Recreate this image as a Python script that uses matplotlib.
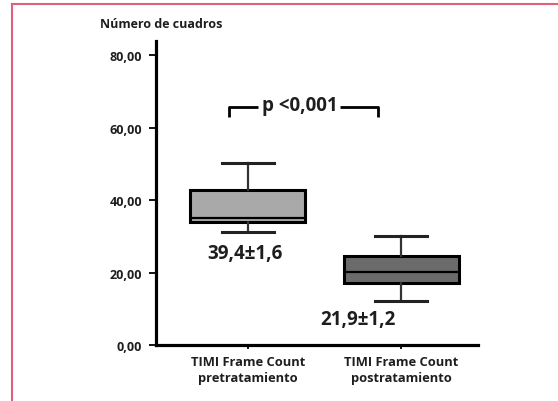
import matplotlib
matplotlib.use("Agg")
import matplotlib.pyplot as plt
from matplotlib.lines import Line2D

categories = ["TIMI Frame Count\npretratamiento", "TIMI Frame Count\npostratamiento"]
whislo = [31.3, 12.2]
q1 = [33.9, 17.0]
med = [35.2, 20.2]
q3 = [42.8, 24.6]
whishi = [50.4, 30.2]
mean_labels = ["39,4±1,6", "21,9±1,2"]
y_ticks = [0, 20, 40, 60, 80]
y_ticklabels = ["0,00", "20,00", "40,00", "60,00", "80,00"]
box_colors = ["#a9a9a9", "#6b6b6b"]
p_text = "p <0,001"
y_title = "Número de cuadros"

FONT = "Open Sans"
plt.rcParams['font.family'] = [FONT, 'DejaVu Sans']

fig = plt.figure(figsize=(5.58, 4.02), dpi=100)
ax = fig.add_axes([156/558, 1-346/402, (478-156)/558, (346-42)/402])

stats = []
for i in range(len(categories)):
    stats.append(dict(whislo=whislo[i], q1=q1[i], med=med[i], q3=q3[i], whishi=whishi[i], fliers=[]))

bp = ax.bxp(stats, positions=[1, 2], widths=0.75, patch_artist=True, showfliers=False,
            boxprops=dict(linewidth=2.2, edgecolor="black"),
            medianprops=dict(color="black", linewidth=1.6),
            whiskerprops=dict(color="#333333", linewidth=1.6),
            capprops=dict(color="#222222", linewidth=2.2),
            capwidths=0.34)
for patch, c in zip(bp["boxes"], box_colors):
    patch.set_facecolor(c)

ax.set_xlim(0.40, 2.50)
ax.set_ylim(0, 84)
ax.set_yticks(y_ticks)
ax.set_yticklabels(y_ticklabels, fontsize=9, fontweight="bold", color="#1e1e1e")
ax.set_xticks([1, 2])
ax.set_xticklabels(categories, fontsize=9.3, fontweight="bold", color="#1e1e1e", linespacing=1.35)
ax.tick_params(axis="y", direction="out", length=5, width=1.3, pad=5)
ax.tick_params(axis="x", direction="out", length=3, width=1.3, pad=4)
for s in ["top", "right"]:
    ax.spines[s].set_visible(False)
for s in ["left", "bottom"]:
    ax.spines[s].set_linewidth(2.3)
    ax.spines[s].set_color("black")

# mean labels
ax.text(0.98, 25.5, mean_labels[0], ha="center", va="center", fontsize=13.5, fontweight="bold", color="#1e1e1e")
ax.text(1.72, 7.1, mean_labels[1], ha="center", va="center", fontsize=13.5, fontweight="bold", color="#1e1e1e")

# significance bracket
xl, xr = 0.876, 1.85
yh, yv = 65.9, 62.9
ax.plot([xl, xl, 1.065], [yv, yh, yh], color="black", lw=2, solid_capstyle="butt", clip_on=False)
ax.plot([1.60, xr, xr], [yh, yh, yv], color="black", lw=2, solid_capstyle="butt", clip_on=False)
ax.text(1.335, yh + 0.4, p_text, ha="center", va="center", fontsize=13.5, fontweight="bold", color="#1e1e1e")

fig.text(100/558, 1-25/402, y_title, ha="left", va="center", fontsize=9, fontweight="bold", color="#1e1e1e")

# pink frame
pink = "#e0607a"
fig.add_artist(Line2D([12/558, 1], [1-5/402, 1-5/402], color=pink, lw=1.5, transform=fig.transFigure))
fig.add_artist(Line2D([12/558, 12/558], [0, 1-5/402], color=pink, lw=1.5, transform=fig.transFigure))

fig.savefig("out.png", dpi=100)
